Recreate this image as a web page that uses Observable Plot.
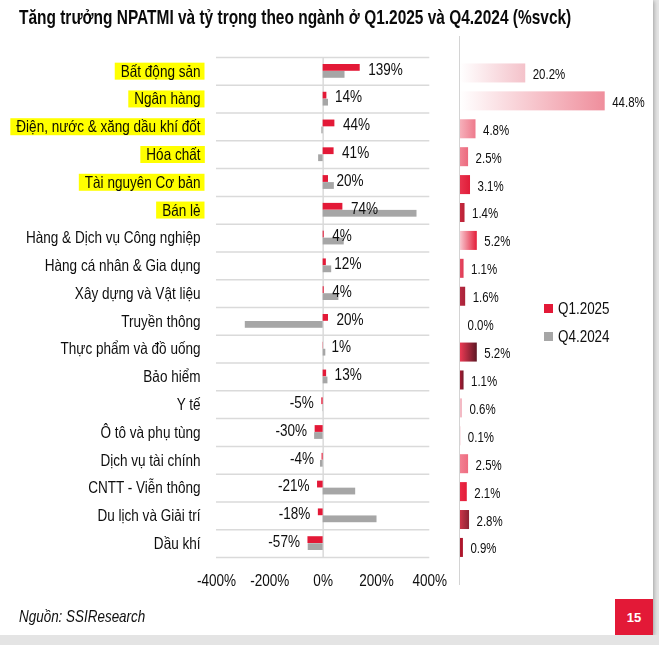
<!DOCTYPE html>
<html><head><meta charset="utf-8">
<script src="https://cdn.jsdelivr.net/npm/d3@7"></script>
<script src="https://cdn.jsdelivr.net/npm/@observablehq/plot@0.6"></script>
<style>
body{margin:0;background:#e4e4e4;}
#card{position:relative;width:653px;height:635px;background:#fff;box-shadow:1px 1px 4px rgba(0,0,0,.3);overflow:hidden;font-family:"Liberation Sans",Arial,sans-serif;color:#0e0e0e;}
.nar{display:inline-block;transform-origin:0 50%;white-space:nowrap;}
#title{position:absolute;left:19px;top:5px;font-weight:bold;font-size:21px;white-space:nowrap;color:#0a0a0a;}
#left{position:absolute;left:0;top:40px;}
#right{position:absolute;left:440px;top:40px;}
#vline{position:absolute;left:459px;top:36px;width:1px;height:549px;background:#d4d4d4;}
.leg{position:absolute;left:544px;font-size:16.4px;display:flex;align-items:center;white-space:nowrap;}
.leg .sw{display:inline-block;width:9px;height:9px;margin-right:5px;}
#source{position:absolute;left:19px;top:607px;font-style:italic;font-size:16.4px;}
#page{position:absolute;left:615px;top:599px;width:38px;height:36px;background:#e31937;color:#fff;font-weight:bold;font-size:13px;display:flex;align-items:center;justify-content:center;}
</style></head>
<body>
<div id="card">
  <div id="title"><span class="nar" id="titleText">Tăng trưởng NPATMI và tỷ trọng theo ngành ở Q1.2025 và Q4.2024 (%svck)</span></div>
  <div id="vline"></div>
  <div id="left"></div>
  <div id="right"></div>
  <div class="leg" style="top:299px"><span class="sw" style="background:#e31937"></span><span class="nar">Q1.2025</span></div>
  <div class="leg" style="top:327px"><span class="sw" style="background:#a6a6a6"></span><span class="nar">Q4.2024</span></div>
  <div id="source"><span class="nar">Nguồn: SSIResearch</span></div>
  <div id="page">15</div>
</div>
<script>
const categories = ["Bất động sản","Ngân hàng","Điện, nước & xăng dầu khí đốt","Hóa chất","Tài nguyên Cơ bản","Bán lẻ","Hàng & Dịch vụ Công nghiệp","Hàng cá nhân & Gia dụng","Xây dựng và Vật liệu","Truyền thông","Thực phẩm và đồ uống","Bảo hiểm","Y tế","Ô tô và phụ tùng","Dịch vụ tài chính","CNTT - Viễn thông","Du lịch và Giải trí","Dầu khí"];
const q1_2025 = [139,14,44,41,20,74,4,12,4,20,1,13,-5,-30,-4,-21,-18,-57];
const q4_2024 = [82,20,-5,-17,42,352,79,32,59,-292,10,18,-1.5,-32,-10,122,202,-56];
const weights = [20.2,44.8,4.8,2.5,3.1,1.4,5.2,1.1,1.6,0.0,5.2,1.1,0.6,0.1,2.5,2.1,2.8,0.9];
const xTicks = [-400,-200,0,200,400];
const highlightedCategories = ["Bất động sản","Ngân hàng","Điện, nước & xăng dầu khí đốt","Hóa chất","Tài nguyên Cơ bản","Bán lẻ"];
const highlightedValues = ["Bất động sản","Ngân hàng","Hóa chất","Bán lẻ"];

// style: gradient stops for the weight bars
const gradStart = ["#ffffff","#ffffff","#f6b0ba","#f08494","#e8344e","#c8283e","#f8c8d0","#e44a62","#b82a42","#ffffff","#ec3a54","#a81c34","#f4bcc6","#f4bcc6","#f28092","#ea2a46","#cc3448","#b4182e"];
const gradEnd   = ["#f4c2ca","#ef8e9c","#ee7a8c","#ec6a7e","#e01c38","#b82236","#e41c38","#e03a54","#a82238","#ffffff","#5e1624","#741a2a","#f2b4c0","#f2b4c0","#ee6c80","#e41c38","#8a2232","#a8142a"];

const FONT = '"Liberation Sans",Arial,sans-serif';
const NARROW = 0.82;
const rows = categories.map((c,i)=>({category:c, q1:q1_2025[i], q4:q4_2024[i], w:weights[i], i}));
const step = 500/categories.length;
const last = categories[categories.length-1];

const left = Plot.plot({
  width:445, height:552, marginLeft:216, marginRight:15.7, marginTop:17, marginBottom:35,
  style:{fontFamily:FONT, fontSize:"16.5px", color:"#0e0e0e", background:"transparent", overflow:"visible"},
  x:{domain:[-400,400]},
  y:{domain:categories, padding:0, round:false},
  marks:[
    Plot.ruleY(categories, {y:d=>d, dy:-step/2, stroke:"#dadada", strokeWidth:1.5}),
    Plot.ruleY([last], {y:d=>d, dy:step/2, stroke:"#dadada", strokeWidth:1.5}),
    Plot.ruleX([0], {stroke:"#dadada", strokeWidth:1.5}),
    Plot.barX(rows, {y:"category", x:"q1", fill:"#e31937", insetTop:7, insetBottom:14}),
    Plot.barX(rows, {y:"category", x:"q4", fill:"#a6a6a6", insetTop:14, insetBottom:7}),
    Plot.text(rows, {filter:d=>d.q1>=0, y:"category", x:"q1", text:d=>d.q1+"%", textAnchor:"start", dx:8, dy:-2, fontSize:16.5, ariaLabel:"value-label"}),
    Plot.text(rows, {filter:d=>d.q1<0, y:"category", x:"q1", text:d=>d.q1+"%", textAnchor:"end", dx:-8, dy:-2, fontSize:16.5, ariaLabel:"value-label"}),
    Plot.axisY({tickSize:0, tickPadding:16, fontSize:16.5, label:null}),
    Plot.axisX({ticks:xTicks, tickFormat:d=>d+"%", tickSize:0, tickPadding:17, fontSize:16.5, label:null})
  ]
});
document.getElementById("left").appendChild(left);

const right = Plot.plot({
  width:213, height:531.4, marginLeft:20, marginRight:31.5, marginTop:19, marginBottom:10,
  style:{fontFamily:FONT, fontSize:"14px", color:"#0e0e0e", background:"transparent", overflow:"visible"},
  x:{domain:[0,50], axis:null},
  y:{domain:categories, padding:0, round:false, axis:null},
  color:{type:"identity"},
  marks:[
    () => {
      const defs = d3.create("svg:defs");
      rows.forEach((d,i)=>{
        const g = defs.append("linearGradient").attr("id","wg"+i).attr("x1","0").attr("x2","1").attr("y1","0").attr("y2","0");
        g.append("stop").attr("offset","0").attr("stop-color",gradStart[i]);
        g.append("stop").attr("offset","1").attr("stop-color",gradEnd[i]);
      });
      return defs.node();
    },
    Plot.barX(rows, {y:"category", x:"w", fill:d=>`url(#wg${d.i})`, insetTop:4.45, insetBottom:4.45}),
    Plot.text(rows, {y:"category", x:"w", text:d=>d.w.toFixed(1)+"%", textAnchor:"start", dx:7, dy:1, fontSize:14})
  ]
});
document.getElementById("right").appendChild(right);

// condense all chart texts horizontally (Arial Narrow look)
[left, right].forEach(svg => svg.querySelectorAll("text").forEach(t => {
  const len = t.getComputedTextLength();
  if (len > 0) { t.setAttribute("textLength", len*NARROW); t.setAttribute("lengthAdjust","spacingAndGlyphs"); }
}));
const tt = document.getElementById("titleText");
const titleScale = 552 / tt.offsetWidth;
document.querySelectorAll(".nar").forEach(s => s.style.transform = `scaleX(${s === tt ? titleScale : NARROW})`);

function addHighlight(t, padL, padR, padT, padB){
  const b = t.getBBox();
  const r = document.createElementNS("http://www.w3.org/2000/svg","rect");
  r.setAttribute("x", b.x - padL);
  r.setAttribute("y", b.y + padT);
  r.setAttribute("width", b.width + padL + padR);
  r.setAttribute("height", b.height - padT - padB);
  if (t.getAttribute("transform")) r.setAttribute("transform", t.getAttribute("transform"));
  r.setAttribute("fill", "#ffff00");
  r.style.mixBlendMode = "multiply";
  t.parentNode.appendChild(r);
}
left.querySelectorAll('g[aria-label="y-axis tick label"] text').forEach(t=>{
  if (highlightedCategories.includes(t.textContent)) addHighlight(t, 6, 4, 1, 0);
});
const valTexts = [...left.querySelectorAll('g[aria-label="value-label"] text')];
const posRows = rows.filter(d=>d.q1>=0).concat(rows.filter(d=>d.q1<0));
valTexts.forEach((t,k)=>{
  if (posRows[k] && highlightedValues.includes(posRows[k].category)) addHighlight(t, 8, 0, 1, 0);
});
</script>
</body></html>
